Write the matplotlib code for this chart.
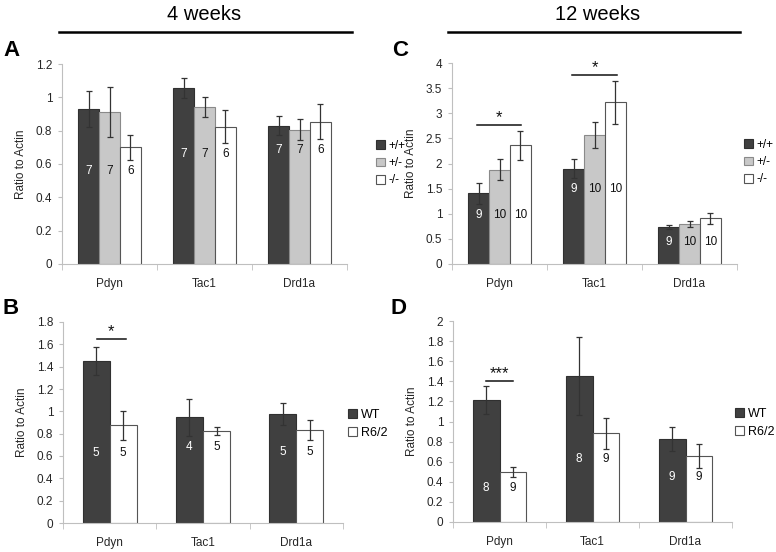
import numpy as np
import matplotlib
matplotlib.use("Agg")
import matplotlib.pyplot as plt
from matplotlib.patches import Patch

plt.rcParams['font.family'] = ['Liberation Sans', 'DejaVu Sans']

genes = ['Pdyn', 'Tac1', 'Drd1a']

# panel A - 4 weeks, +/+ +/- -/-
a_labels = ['+/+', '+/-', '-/-']
a_wt = [0.93, 1.055, 0.83]
a_het = [0.91, 0.94, 0.805]
a_ko = [0.70, 0.825, 0.855]
a_wt_err = [0.11, 0.06, 0.058]
a_het_err = [0.15, 0.06, 0.063]
a_ko_err = [0.075, 0.10, 0.106]
a_n = [[7, 7, 7], [7, 7, 7], [6, 6, 6]]

# panel C - 12 weeks
c_wt = [1.41, 1.90, 0.736]
c_het = [1.877, 2.565, 0.796]
c_ko = [2.36, 3.215, 0.909]
c_wt_err = [0.21, 0.195, 0.04]
c_het_err = [0.205, 0.26, 0.063]
c_ko_err = [0.285, 0.43, 0.105]
c_n = [[9, 9, 9], [10, 10, 10], [10, 10, 10]]

# panel B - 4 weeks, WT vs R6/2
b_labels = ['WT', 'R6/2']
b_wt = [1.452, 0.946, 0.979]
b_r62 = [0.874, 0.824, 0.833]
b_wt_err = [0.125, 0.163, 0.10]
b_r62_err = [0.13, 0.04, 0.088]
b_n = [[5, 4, 5], [5, 5, 5]]

# panel D - 12 weeks
d_wt = [1.217, 1.453, 0.826]
d_r62 = [0.4975, 0.882, 0.657]
d_wt_err = [0.14, 0.385, 0.12]
d_r62_err = [0.05, 0.155, 0.117]
d_n = [[8, 8, 9], [9, 9, 9]]

W, H = 776, 552
fig = plt.figure(figsize=(W / 100, H / 100), dpi=100)

DARK = '#404040'
GRAY = '#c8c8c8'
WHITE = '#ffffff'
TXT = '#262626'


def px_axes(l, r, t, b):
    return fig.add_axes([l / W, 1 - b / H, (r - l) / W, (b - t) / H])


def draw_panel(ax, series, errs, ns, colors, edges, width, ymax, ystep, n_y):
    k = len(series)
    x = np.arange(len(genes))
    for i in range(k):
        pos = x + (i - (k - 1) / 2) * width
        ax.bar(pos, series[i], width, color=colors[i], edgecolor=edges[i],
               linewidth=0.8, zorder=2)
        ax.errorbar(pos, series[i], yerr=errs[i], fmt='none', ecolor='#333333',
                    elinewidth=0.9, capsize=2.5, capthick=0.9, zorder=3)
        tc = 'white' if colors[i] == DARK else '#111111'
        for j in range(len(genes)):
            ax.text(pos[j], n_y[j], str(ns[i][j]), ha='center', va='center',
                    fontsize=8.5, color=tc, zorder=4)
    ax.set_xlim(-0.5, 2.5)
    ax.set_ylim(0, ymax)
    ticks = np.arange(0, ymax + ystep / 2, ystep)
    ax.set_yticks(ticks)
    ax.set_yticklabels(['%g' % round(v, 2) for v in ticks])
    ax.set_xticks(x)
    ax.set_xticklabels(genes)
    ax.set_xticks([-0.5, 0.5, 1.5, 2.5], minor=True)
    ax.tick_params(axis='x', which='major', length=0, pad=10, labelsize=8.5,
                   labelcolor=TXT)
    ax.tick_params(axis='x', which='minor', length=4, color='#bfbfbf')
    ax.tick_params(axis='y', length=3, color='#bfbfbf', labelsize=8.5,
                   labelcolor=TXT, pad=4)
    for s in ['top', 'right']:
        ax.spines[s].set_visible(False)
    for s in ['left', 'bottom']:
        ax.spines[s].set_color('#bfbfbf')
        ax.spines[s].set_linewidth(0.8)
    ax.set_ylabel('Ratio to Actin', fontsize=8.5, color=TXT, labelpad=6)


def add_legend(ax, labels, colors, edges, xpx, ypx, fs):
    handles = [Patch(facecolor=c, edgecolor=e, linewidth=0.8)
               for c, e in zip(colors, edges)]
    ax.legend(handles, labels, loc='center left',
              bbox_to_anchor=(xpx / W, 1 - ypx / H), bbox_transform=fig.transFigure,
              frameon=False, fontsize=fs, handlelength=0.75, handleheight=0.75,
              handletextpad=0.3, labelspacing=0.45, borderpad=0, borderaxespad=0)


def sig(ax, x0, x1, y, stars):
    ax.plot([x0, x1], [y, y], color='#111111', linewidth=1.1, zorder=5)
    ax.text((x0 + x1) / 2, y, stars, ha='center', va='bottom', fontsize=12,
            color='#111111', zorder=5)


three_c = [DARK, GRAY, WHITE]
three_e = ['#303030', '#8a8a8a', '#555555']
two_c = [DARK, WHITE]
two_e = ['#303030', '#555555']

axA = px_axes(62, 347, 64, 264)
draw_panel(axA, [a_wt, a_het, a_ko], [a_wt_err, a_het_err, a_ko_err], a_n,
           three_c, three_e, 0.22, 1.2, 0.2, [0.555, 0.66, 0.685])
add_legend(axA, a_labels, three_c, three_e, 376, 163, 8.5)

axC = px_axes(452, 737, 63, 264)
draw_panel(axC, [c_wt, c_het, c_ko], [c_wt_err, c_het_err, c_ko_err], c_n,
           three_c, three_e, 0.22, 4, 0.5, [0.97, 1.49, 0.44])
add_legend(axC, a_labels, three_c, three_e, 744, 162, 8.5)
sig(axC, -0.24, 0.23, 2.76, '*')
sig(axC, 0.76, 1.24, 3.755, '*')

axB = px_axes(63, 343, 322, 523)
draw_panel(axB, [b_wt, b_r62], [b_wt_err, b_r62_err], b_n,
           two_c, two_e, 0.29, 1.8, 0.2, [0.627, 0.677, 0.636])
add_legend(axB, b_labels, two_c, two_e, 348, 424, 9)
sig(axB, -0.14, 0.17, 1.644, '*')

axD = px_axes(453, 732, 321, 522)
draw_panel(axD, [d_wt, d_r62], [d_wt_err, d_r62_err], d_n,
           two_c, two_e, 0.29, 2, 0.2, [0.339, 0.625, 0.444])
add_legend(axD, b_labels, two_c, two_e, 735, 423, 9)
sig(axD, -0.15, 0.14, 1.406, '***')

# header lines and titles
for (x0, x1, label, xc) in [(59, 352, '4 weeks', 204), (448, 740, '12 weeks', 598)]:
    fig.add_artist(plt.Line2D([x0 / W, x1 / W], [1 - 32 / H, 1 - 32 / H],
                              color='black', linewidth=1.8))
    fig.text(xc / W, 1 - 14 / H, label, ha='center', va='center', fontsize=14.5)

for (lab, xl, yc) in [('A', 3, 50), ('C', 392, 50), ('B', 3, 308), ('D', 391, 308)]:
    fig.text(xl / W, 1 - yc / H, lab, ha='left', va='center', fontsize=16,
             fontweight='bold')

fig.savefig('out.png', dpi=100)
